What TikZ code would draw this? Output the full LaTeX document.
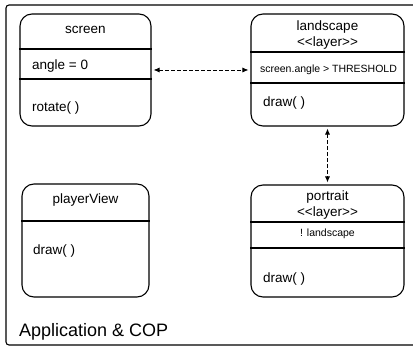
\documentclass[tikz,border=0pt]{standalone}
\usepackage{fontspec}
\setmainfont{Liberation Sans}
\usetikzlibrary{arrows.meta}
\begin{document}
\begin{tikzpicture}[x=1pt,y=-1pt,
  frame/.style={draw, line width=1.1pt, rounded corners=3pt},
  umlbox/.style={draw, line width=1.1pt, rounded corners=12pt, inner sep=0pt},
  divider/.style={line width=1.1pt},
  title/.style={font=\fontsize{13.5}{16}\selectfont, inner sep=0pt, anchor=center},
  member/.style={font=\fontsize{13.5}{16}\selectfont, inner sep=0pt, anchor=west},
  cond/.style={font=\fontsize{10.5}{12}\selectfont, inner sep=0pt, anchor=center},
  conn/.style={dash pattern=on 3.5pt off 2.5pt, line width=0.8pt, {Latex[length=6pt,width=5pt]}-{Latex[length=6pt,width=5pt]}, shorten <=2pt, shorten >=2pt}
]
\useasboundingbox (0,0) rectangle (413,347);
\fill[white] (0,0) rectangle (413,347);
\draw[frame] (414,5) -- (6,5) -- (6,345) -- (414,345);
\node[font=\fontsize{18}{20}\selectfont, inner sep=0pt, anchor=west] (app) at (19,332) {Application \& COP};

% screen
\node[umlbox, minimum width=131pt, minimum height=112pt] (screen) at (85.5,70) {};
\draw[divider] (screen.west |- 0,49) -- (screen.east |- 0,49);
\draw[divider] (screen.west |- 0,79) -- (screen.east |- 0,79);
\node[title] (screenT) at (85.5,30) {screen};
\node[member] (screenA) at (32,66) {angle = 0};
\node[member] (screenM) at (32,108) {rotate( )};

% landscape
\node[umlbox, minimum width=153pt, minimum height=112pt] (land) at (327.5,70) {};
\draw[divider] (land.west |- 0,52) -- (land.east |- 0,52);
\draw[divider] (land.west |- 0,83) -- (land.east |- 0,83);
\node[title] (landT) at (327.5,27) {landscape};
\node[title] (landS) at (327.5,43) {<{}<layer>{}>};
\node[cond] (landC) at (328.5,70) {screen.angle > THRESHOLD};
\node[member] (landM) at (263,103) {draw( )};

% playerView
\node[umlbox, minimum width=127pt, minimum height=113pt] (player) at (85.5,240.5) {};
\draw[divider] (player.west |- 0,221) -- (player.east |- 0,221);
\node[title] (playerT) at (85.5,200) {playerView};
\node[member] (playerM) at (33,251) {draw( )};

% portrait
\node[umlbox, minimum width=153pt, minimum height=112pt] (port) at (327.5,241) {};
\draw[divider] (port.west |- 0,222) -- (port.east |- 0,222);
\draw[divider] (port.west |- 0,248) -- (port.east |- 0,248);
\node[title] (portT) at (327.5,197) {portrait};
\node[title] (portS) at (327.5,213) {<{}<layer>{}>};
\node[cond] (portC) at (327.5,234) {! landscape};
\node[member] (portM) at (263,279) {draw( )};

% connectors
\draw[conn] (screen.east) -- (land.west);
\draw[conn] (land.south) -- (port.north);
\end{tikzpicture}
\end{document}
